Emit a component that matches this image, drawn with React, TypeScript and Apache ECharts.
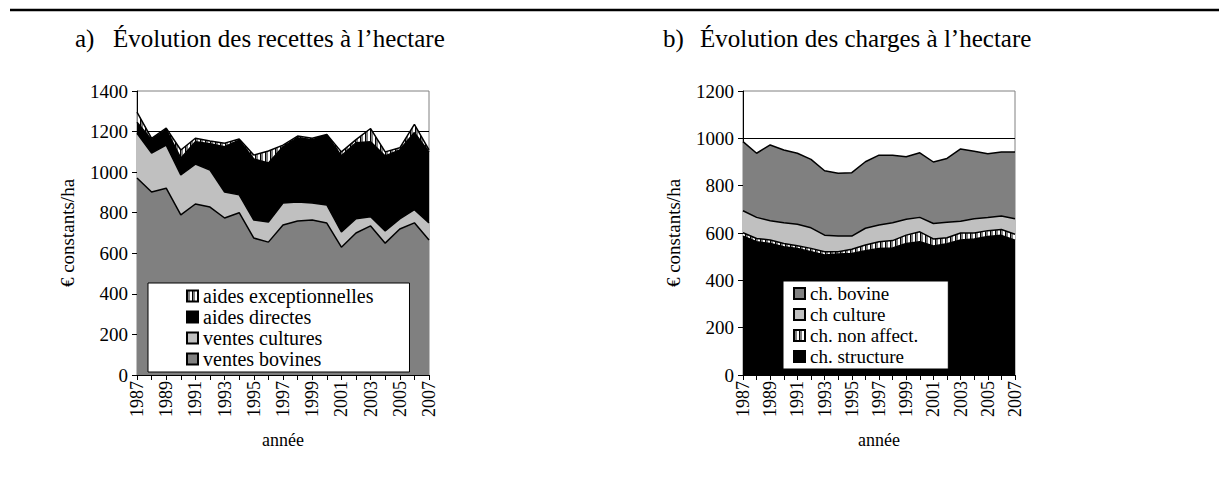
import React, { useEffect, useRef } from "react";
import * as echarts from "echarts";

const years = ["1987","1988","1989","1990","1991","1992","1993","1994","1995","1996","1997","1998","1999","2000","2001","2002","2003","2004","2005","2006","2007"];

// a) recettes (€ constants/ha), stacked bottom -> top
const ventesBovines = [971, 902, 921, 789, 843, 828, 774, 800, 675, 655, 739, 759, 764, 749, 630, 700, 735, 650, 720, 750, 665];
const ventesCultures = [221, 192, 212, 197, 197, 182, 128, 88, 89, 99, 109, 94, 84, 89, 75, 70, 45, 60, 50, 65, 85];
const aidesDirectes = [54, 66, 77, 83, 110, 130, 223, 270, 301, 291, 277, 317, 312, 345, 375, 375, 370, 370, 340, 380, 350];
const aidesExceptionnelles = [50, 7, 7, 40, 17, 13, 18, 5, 19, 59, 8, 8, 7, 3, 20, 15, 65, 20, 10, 40, 10];

// b) charges (€ constants/ha), stacked bottom -> top
const chStructure = [587, 563, 556, 542, 535, 521, 507, 511, 513, 525, 535, 537, 556, 563, 545, 555, 570, 575, 585, 590, 570];
const chNonAffect = [14, 14, 14, 14, 11, 14, 14, 10, 18, 24, 28, 31, 35, 42, 30, 25, 30, 25, 25, 25, 25];
const chCulture = [93, 89, 82, 87, 91, 87, 70, 66, 56, 71, 71, 75, 67, 61, 65, 65, 50, 60, 55, 57, 65];
const chBovine = [292, 271, 320, 308, 300, 289, 272, 265, 268, 281, 295, 286, 264, 273, 260, 270, 305, 285, 270, 270, 282];

const legendA = ["aides exceptionnelles", "aides directes", "ventes cultures", "ventes bovines"];
const legendB = ["ch. bovine", "ch culture", "ch. non affect.", "ch. structure"];

const FONT = "Liberation Serif";

function stripes() {
  const c = document.createElement("canvas");
  c.width = 5;
  c.height = 5;
  const ctx = c.getContext("2d")!;
  ctx.fillStyle = "#ffffff";
  ctx.fillRect(0, 0, 5, 5);
  ctx.fillStyle = "#000000";
  ctx.fillRect(0, 0, 1, 5);
  ctx.fillStyle = "#808080";
  ctx.fillRect(1, 0, 2, 5);
  return { image: c, repeat: "repeat", imageWidth: 5, imageHeight: 5 } as any;
}

export default function App() {
  const ref = useRef<HTMLDivElement>(null);
  useEffect(() => {
    if (!ref.current) return;
    const chart = echarts.init(ref.current, null, { renderer: "svg" });
    const hatch = stripes();

    const area = (name: string, data: number[], color: any, stack: string, xi: number) => ({
      name,
      type: "line",
      stack,
      xAxisIndex: xi,
      yAxisIndex: xi,
      data,
      symbol: "none",
      lineStyle: { color: "#000", width: 1.5 },
      areaStyle: { color, opacity: 1 },
      itemStyle: { color, borderColor: "#000", borderWidth: 1 },
      emphasis: { disabled: true },
    });

    const xAxis = (gi: number) => ({
      type: "category",
      gridIndex: gi,
      data: years,
      boundaryGap: false,
      axisLine: { lineStyle: { color: "#000", width: 1 } },
      axisTick: { show: true, interval: 0, length: 5, lineStyle: { color: "#000" } },
      axisLabel: { interval: 1, rotate: 90, color: "#000", fontFamily: FONT, fontSize: 18, margin: 6 },
      splitLine: { show: false },
    });

    const yAxis = (gi: number, max: number) => ({
      type: "value",
      gridIndex: gi,
      min: 0,
      max,
      interval: 200,
      axisLine: { show: true, lineStyle: { color: "#000", width: 1 } },
      axisTick: { show: true, length: 5, lineStyle: { color: "#000" } },
      axisLabel: { color: "#000", fontFamily: FONT, fontSize: 19, margin: 9, formatter: (v: number) => String(v) },
      splitLine: { show: true, showMaxLine: false, lineStyle: { color: "#000", width: 1 } },
    });

    chart.setOption({
      animation: false,
      backgroundColor: "#fff",
      grid: [
        { left: 137, top: 91, width: 292, height: 284, show: true, borderColor: "#808080", borderWidth: 1, backgroundColor: "transparent" },
        { left: 743, top: 91, width: 272, height: 284, show: true, borderColor: "#808080", borderWidth: 1, backgroundColor: "transparent" },
      ],
      xAxis: [xAxis(0), xAxis(1)],
      yAxis: [yAxis(0, 1400), yAxis(1, 1200)],
      legend: [
        {
          data: legendA,
          orient: "vertical",
          left: 148,
          top: 283,
          padding: [3, 36, 3, 38],
          itemGap: 1,
          itemWidth: 11,
          itemHeight: 11,
          backgroundColor: "#fff",
          borderColor: "#000",
          borderWidth: 1,
          textStyle: { color: "#000", fontFamily: FONT, fontSize: 20 },
          selectedMode: false,
          icon: "rect",
        },
        {
          data: legendB,
          orient: "vertical",
          left: 783,
          top: 281,
          padding: [3, 30, 3, 10],
          itemGap: 2,
          itemWidth: 11,
          itemHeight: 11,
          backgroundColor: "#fff",
          borderColor: "#000",
          borderWidth: 1,
          textStyle: { color: "#000", fontFamily: FONT, fontSize: 19 },
          selectedMode: false,
          icon: "rect",
        },
      ],
      series: [
        area("ventes bovines", ventesBovines, "#808080", "a", 0),
        area("ventes cultures", ventesCultures, "#c0c0c0", "a", 0),
        area("aides directes", aidesDirectes, "#000000", "a", 0),
        area("aides exceptionnelles", aidesExceptionnelles, hatch, "a", 0),
        area("ch. structure", chStructure, "#000000", "b", 1),
        area("ch. non affect.", chNonAffect, hatch, "b", 1),
        area("ch culture", chCulture, "#c0c0c0", "b", 1),
        area("ch. bovine", chBovine, "#808080", "b", 1),
      ],
      graphic: [
        { type: "line", shape: { x1: 10, y1: 10, x2: 1219, y2: 10 }, style: { stroke: "#000", lineWidth: 2.5 } },
        { type: "text", x: 75, y: 38, style: { text: "a)", fontFamily: FONT, fontSize: 25, fill: "#000", textVerticalAlign: "middle" } },
        { type: "text", x: 113, y: 38, style: { text: "Évolution des recettes à l’hectare", fontFamily: FONT, fontSize: 25, fill: "#000", textVerticalAlign: "middle" } },
        { type: "text", x: 663, y: 38, style: { text: "b)", fontFamily: FONT, fontSize: 25, fill: "#000", textVerticalAlign: "middle" } },
        { type: "text", x: 700, y: 38, style: { text: "Évolution des charges à l’hectare", fontFamily: FONT, fontSize: 25, fill: "#000", textVerticalAlign: "middle" } },
        { type: "text", x: 67, y: 233, rotation: Math.PI / 2, style: { text: "€ constants/ha", fontFamily: FONT, fontSize: 19, fill: "#000", textAlign: "center", textVerticalAlign: "middle" } },
        { type: "text", x: 673, y: 233, rotation: Math.PI / 2, style: { text: "€ constants/ha", fontFamily: FONT, fontSize: 19, fill: "#000", textAlign: "center", textVerticalAlign: "middle" } },
        { type: "text", x: 283, y: 440, style: { text: "année", fontFamily: FONT, fontSize: 18, fill: "#000", textAlign: "center", textVerticalAlign: "middle" } },
        { type: "text", x: 879, y: 440, style: { text: "année", fontFamily: FONT, fontSize: 18, fill: "#000", textAlign: "center", textVerticalAlign: "middle" } },
      ],
    });
    return () => chart.dispose();
  }, []);
  return <div ref={ref} style={{ position: "fixed", left: 0, top: 0, width: 1219, height: 482 }} />;
}
